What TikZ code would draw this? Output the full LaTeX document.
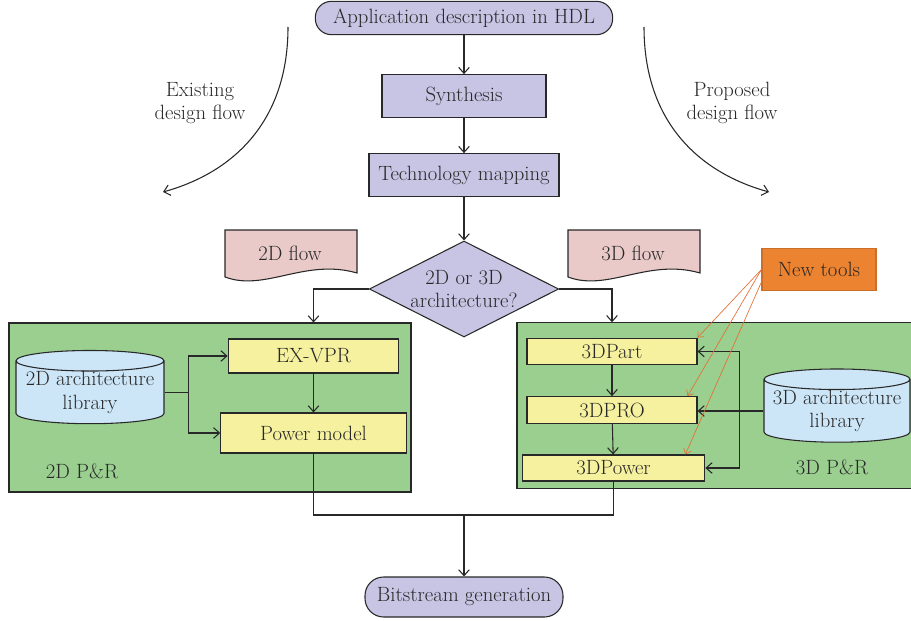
\documentclass[tikz,border=0pt]{standalone}
\usepackage{tikz}
\usetikzlibrary{shapes.geometric,arrows.meta,positioning,calc}
\definecolor{flowpurple}{RGB}{200,196,228}
\definecolor{flowpink}{RGB}{234,202,201}
\definecolor{prgreen}{RGB}{154,207,144}
\definecolor{toolyellow}{RGB}{245,241,158}
\definecolor{libblue}{RGB}{204,230,248}
\definecolor{neworange}{RGB}{236,131,48}
\definecolor{newarrow}{RGB}{226,112,52}
\definecolor{inkgray}{RGB}{40,40,40}

\begin{document}
\begin{tikzpicture}[x=0.75pt, y=-0.75pt, line width=0.8pt, draw=inkgray, text=inkgray,
    font=\fontsize{15.5}{17.5}\selectfont,
    >={Straight Barb[length=4.5pt,width=8pt]},
    terminal/.style={draw, fill=flowpurple, rounded corners=12pt, inner sep=0pt},
    process/.style={draw, fill=flowpurple, inner sep=0pt},
    toolbox/.style={draw, fill=toolyellow, inner sep=0pt},
    prbox/.style={draw, fill=prgreen, inner sep=0pt},
    library/.style={draw, fill=libblue, cylinder, shape border rotate=90, aspect=0.16,
        inner sep=0pt, align=center},
    docshape/.style={draw, fill=flowpink},
    newarr/.style={draw=newarrow, line width=0.5pt, -{Straight Barb[length=3.5pt,width=6pt]}}]
    \useasboundingbox (0,0) rectangle (911,621);

    % Main flow
    \node[terminal, minimum width=223pt, minimum height=25pt] (hdl) at (464,18) {Application description in HDL};
    \node[process, minimum width=123pt, minimum height=32pt] (synth) at (464,96) {Synthesis};
    \node[process, minimum width=142.5pt, minimum height=32pt] (techmap) at (464,175) {Technology mapping};
    \node[process, diamond, aspect=2, minimum width=142pt, minimum height=72pt, align=center] (choice) at (464,289) {2D or 3D\\architecture?};

    % Flow labels (document shapes)
    \draw[docshape] (225,230) -- (357,230) -- (357,273) .. controls (305,258) and (265,292) .. (225,277) -- cycle;
    \node (flow2d) at (290,253) {2D flow};
    \draw[docshape] (568,230) -- (700,230) -- (700,273) .. controls (648,258) and (608,292) .. (568,277) -- cycle;
    \node (flow3d) at (633,253) {3D flow};

    % Curved arrows
    \coordinate (exstart) at (288,27);
    \coordinate (exend) at (163,192);
    \draw[->] (exstart) .. controls (288,120) and (235,172) .. (exend);
    \node[align=center] (existing) at (200,103) {Existing\\design flow};
    \coordinate (prstart) at (644,27);
    \coordinate (prend) at (769,192);
    \draw[->] (prstart) .. controls (644,120) and (697,172) .. (prend);
    \node[align=center] (proposed) at (732,103) {Proposed\\design flow};

    % 2D P&R
    \node[prbox, minimum width=301.5pt, minimum height=126.75pt] (box2d) at (210,407.5) {};
    \node[library, minimum width=111pt, minimum height=44pt] (lib2d) at (90,392.5) {2D architecture\\library};
    \node[toolbox, minimum width=128pt, minimum height=25.5pt] (exvpr) at (313.5,356) {EX-VPR};
    \node[toolbox, minimum width=139pt, minimum height=30pt] (power) at (313.5,433) {Power model};
    \node (pr2d) at (82,471) {2D P\&R};

    % 3D P&R
    \node[prbox, minimum width=301.5pt, minimum height=124pt] (box3d) at (718,405.5) {};
    \node[toolbox, minimum width=127.5pt, minimum height=20pt] (part3d) at (612,351.5) {3DPart};
    \node[toolbox, minimum width=127.5pt, minimum height=20pt] (pro3d) at (612,410) {3DPRO};
    \node[toolbox, minimum width=137pt, minimum height=19.5pt] (pow3d) at (613.5,468) {3DPower};
    \node[library, minimum width=109.5pt, minimum height=43.5pt] (lib3d) at (837,411) {3D architecture\\library};
    \node (pr3d) at (832,467) {3D P\&R};
    \node[draw=neworange!85!black, fill=neworange, inner sep=0pt, minimum width=85.5pt, minimum height=31pt] (newtools) at (819,269.5) {New tools};

    % Connectors
    \draw[->] (hdl) -- (synth);
    \draw[->] (synth) -- (techmap);
    \draw[->] (techmap) -- (choice);
    \draw[->] (choice.west) -| (exvpr.north |- box2d.north);
    \draw[->] (choice.east) -| (part3d.north |- box3d.north);

    \coordinate (split2d) at ($(lib2d.east)+(24,0)$);
    \draw (lib2d.east) -- (split2d);
    \draw[->] (split2d) |- (exvpr.west);
    \draw[->] (split2d) |- (power.west);
    \draw[->] (exvpr) -- (power);

    \draw[->] (part3d) -- (pro3d);
    \draw[->] (pro3d) -- (pow3d);
    \coordinate (bus3d) at ($(pro3d.east)+(42,0)$);
    \draw[->] (lib3d.west) -- (lib3d.west -| pro3d.east);
    \draw[->] (bus3d) |- (part3d.east);
    \draw[->] (bus3d) |- (pow3d.east);

    \draw[newarr] (newtools.west) -- (part3d.north east);
    \draw[newarr] (newtools.west) -- ($(pro3d.north east)+(-10,0)$);
    \draw[newarr] ($(newtools.west)+(2,8)$) -- ($(pow3d.north east)+(-20,0)$);

    \coordinate (merge) at (464,515);
    \draw (power.south) |- (merge) -| (pow3d.south);
    \node[terminal, minimum width=148.5pt, minimum height=30pt, rounded corners=14pt] (bits) at (464,597) {Bitstream generation};
    \draw[->] (merge) -- (bits);
\end{tikzpicture}
\end{document}
